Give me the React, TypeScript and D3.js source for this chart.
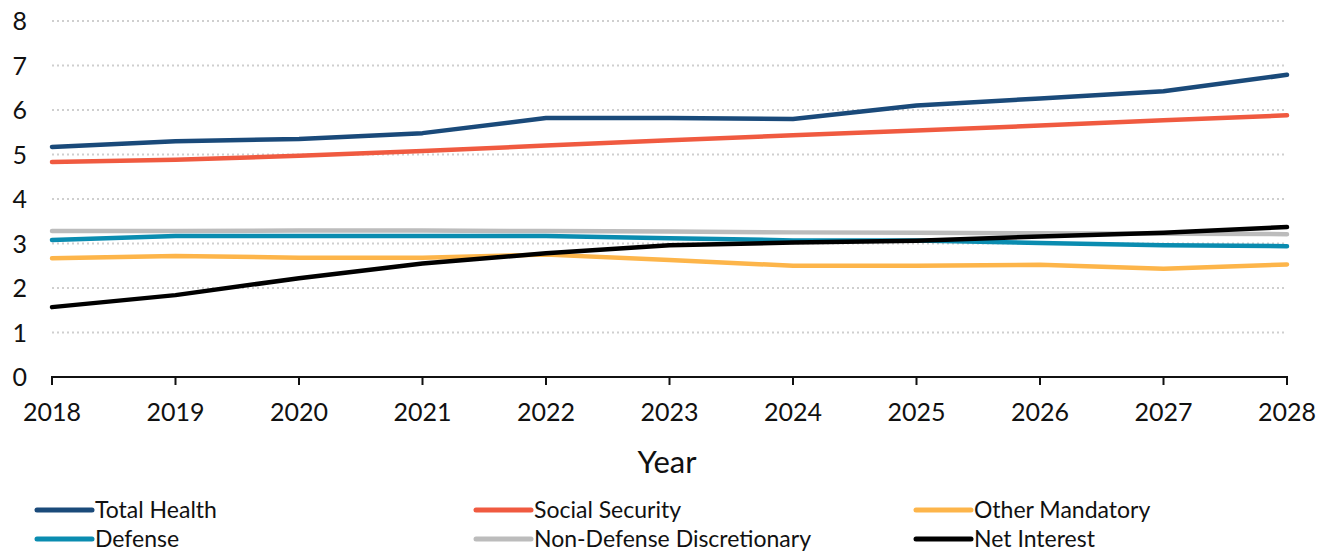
import React from "react";
import * as d3 from "d3";

const years = [2018, 2019, 2020, 2021, 2022, 2023, 2024, 2025, 2026, 2027, 2028];
const yTicks = [0, 1, 2, 3, 4, 5, 6, 7, 8];

const totalHealth = [5.17, 5.3, 5.35, 5.48, 5.82, 5.82, 5.8, 6.1, 6.26, 6.42, 6.79];
const socialSecurity = [4.83, 4.88, 4.97, 5.08, 5.2, 5.32, 5.43, 5.54, 5.65, 5.77, 5.88];
const otherMandatory = [2.67, 2.72, 2.68, 2.68, 2.75, 2.63, 2.5, 2.5, 2.52, 2.43, 2.53];
const defense = [3.08, 3.17, 3.17, 3.17, 3.17, 3.12, 3.07, 3.07, 3.01, 2.96, 2.94];
const nonDefense = [3.28, 3.28, 3.29, 3.29, 3.28, 3.27, 3.25, 3.24, 3.23, 3.22, 3.21];
const netInterest = [1.57, 1.84, 2.22, 2.55, 2.78, 2.96, 3.02, 3.06, 3.16, 3.24, 3.37];

const seriesNames = ["Total Health", "Social Security", "Other Mandatory", "Defense", "Non-Defense Discretionary", "Net Interest"];
const seriesValues = [totalHealth, socialSecurity, otherMandatory, defense, nonDefense, netInterest];
const seriesColors = ["#1a4a7a", "#f05a40", "#fdb54a", "#0a8cb0", "#bcbcbc", "#000000"];
const drawOrder = [4, 3, 2, 1, 0, 5];

const W = 1329;
const H = 554;
const FONT = "Lato, 'Open Sans', sans-serif";

export default function App() {
  const x = d3.scaleLinear().domain([2018, 2028]).range([52, 1287]);
  const y = d3.scaleLinear().domain([0, 8]).range([377, 21]);
  const line = d3
    .line<number>()
    .x((_, i) => x(years[i]))
    .y((d) => y(d));

  const legendCols = [37, 476, 916];
  const legendRows = [510, 539];

  return (
    <svg
      width={W}
      height={H}
      style={{ position: "absolute", left: 0, top: 0, background: "#fff" }}
      fontFamily={FONT}
    >
      {yTicks
        .filter((t) => t > 0)
        .map((t) => (
          <line
            key={t}
            x1={x(2018)}
            x2={x(2028)}
            y1={y(t)}
            y2={y(t)}
            stroke="#cfcfcf"
            strokeWidth={2}
            strokeDasharray="2 3"
          />
        ))}
      {yTicks.map((t) => (
        <text key={t} x={27} y={y(t)} dy="0.36em" textAnchor="end" fontSize={25} fill="#111">
          {t}
        </text>
      ))}
      <line x1={x(2018) - 1} x2={x(2028) + 1} y1={y(0)} y2={y(0)} stroke="#111" strokeWidth={2} />
      {years.map((yr) => (
        <g key={yr}>
          <line x1={x(yr)} x2={x(yr)} y1={y(0)} y2={y(0) + 8} stroke="#111" strokeWidth={2} />
          <text x={x(yr)} y={421} textAnchor="middle" fontSize={25} fill="#111">
            {yr}
          </text>
        </g>
      ))}
      <text x={667} y={473} textAnchor="middle" fontSize={31} fill="#111">
        Year
      </text>
      {drawOrder.map((i) => (
        <path
          key={i}
          d={line(seriesValues[i]) || ""}
          fill="none"
          stroke={seriesColors[i]}
          strokeWidth={4.5}
          strokeLinecap="round"
          strokeLinejoin="round"
        />
      ))}
      {seriesNames.map((name, i) => {
        const cx = legendCols[i % 3];
        const cy = legendRows[Math.floor(i / 3)];
        return (
          <g key={name}>
            <line x1={cx} x2={cx + 55} y1={cy} y2={cy} stroke={seriesColors[i]} strokeWidth={5} strokeLinecap="round" />
            <text x={cx + 58} y={cy} dy="0.36em" fontSize={23} fill="#111" textLength={undefined}>
              {name}
            </text>
          </g>
        );
      })}
    </svg>
  );
}
